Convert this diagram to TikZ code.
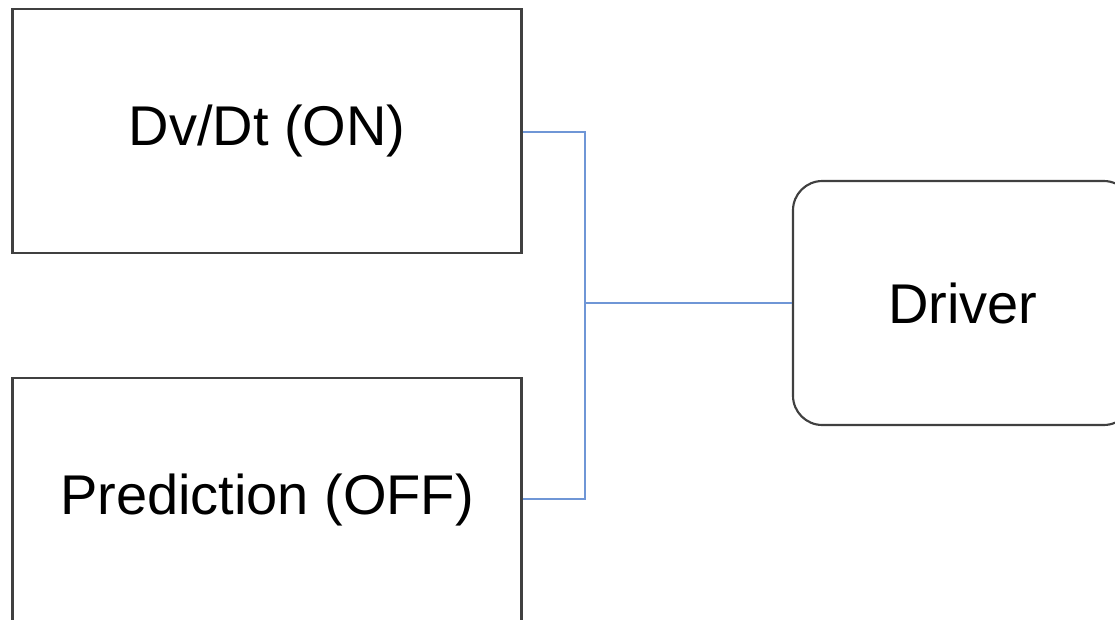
\documentclass[tikz,border=0pt]{standalone}
\usepackage{fontspec}
\setmainfont{Liberation Sans}
\begin{document}
\begin{tikzpicture}[x=0.75pt,y=-0.75pt,
  blockbox/.style={draw=black!75, line width=1.6pt, fill=white, inner sep=0pt,
    font=\fontsize{42}{50}\selectfont},
  link/.style={draw=linkblue, line width=1.4pt}]
  \definecolor{linkblue}{HTML}{6F96D6}
  \useasboundingbox (0,0) rectangle (1115,619);
  \clip (0,0) rectangle (1115,619);
  \fill[white] (0,0) rectangle (1115,619);
  % source blocks on the left
  \node[blockbox, minimum width=509*0.75pt, minimum height=244*0.75pt]
    (dvdt) at (267,131) {Dv/Dt (ON)};
  \node[blockbox, minimum width=509*0.75pt, minimum height=244*0.75pt]
    (pred) at (267,500) {Prediction (OFF)};
  % driver block on the right
  \node[blockbox, rounded corners=22pt, minimum width=340*0.75pt, minimum height=244*0.75pt]
    (drv) at (963,303) {Driver};
  % junction of the two feeds
  \coordinate (join) at (585,303);
  \draw[link] (dvdt.east |- 0,132) -| (join);
  \draw[link] (pred.east |- 0,499) -| (join);
  \draw[link] (join) -- (drv.west);
\end{tikzpicture}
\end{document}
